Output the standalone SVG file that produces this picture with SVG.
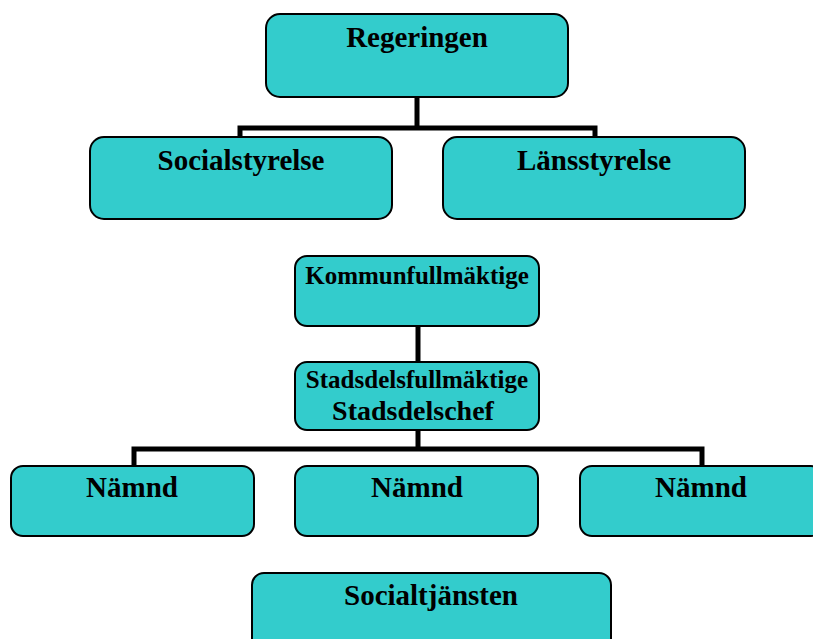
<svg xmlns="http://www.w3.org/2000/svg" width="813" height="639" viewBox="0 0 813 639">
<style>
.box{fill:#33CCCC;stroke:#000;stroke-width:2}
.t{font-family:"Liberation Serif","Times New Roman",serif;font-weight:bold;fill:#000;text-anchor:middle}
.big{font-size:29px}
.small{font-size:25px}
.conn{fill:none;stroke:#000;stroke-width:5}
</style>
<rect width="813" height="639" fill="#fff"/>
<g id="connectors">
<path class="conn" d="M417,97 V128 M240,137 V128 H595 V137"/>
<path class="conn" d="M418,326 V362"/>
<path class="conn" d="M418,430 V449 M134,466 V449 H702 V466"/>
</g>
<g id="regeringen">
<rect class="box" x="266" y="14" width="302" height="83" rx="14"/>
<text class="t big" x="417" y="47">Regeringen</text>
</g>
<g id="socialstyrelse">
<rect class="box" x="90" y="137" width="302" height="82" rx="14"/>
<text class="t big" x="241" y="170">Socialstyrelse</text>
</g>
<g id="lansstyrelse">
<rect class="box" x="443" y="137" width="302" height="82" rx="14"/>
<text class="t big" x="594" y="170">Länsstyrelse</text>
</g>
<g id="kommunfullmaktige">
<rect class="box" x="295" y="256" width="244" height="70" rx="12"/>
<text class="t small" x="417" y="284">Kommunfullmäktige</text>
</g>
<g id="stadsdel">
<rect class="box" x="295" y="362" width="244" height="68" rx="12"/>
<text class="t small" x="417" y="388">Stadsdelsfullmäktige</text>
<text class="t" style="font-size:28px" x="413" y="420">Stadsdelschef</text>
</g>
<g id="namnd1">
<rect class="box" x="11" y="466" width="243" height="70" rx="12"/>
<text class="t big" x="132" y="497">Nämnd</text>
</g>
<g id="namnd2">
<rect class="box" x="295" y="466" width="243" height="70" rx="12"/>
<text class="t big" x="417" y="497">Nämnd</text>
</g>
<g id="namnd3">
<rect class="box" x="580" y="466" width="243" height="70" rx="12"/>
<text class="t big" x="701" y="497">Nämnd</text>
</g>
<g id="socialtjansten">
<rect class="box" x="252" y="573" width="359" height="80" rx="12"/>
<text class="t big" x="431" y="605">Socialtjänsten</text>
</g>
</svg>
